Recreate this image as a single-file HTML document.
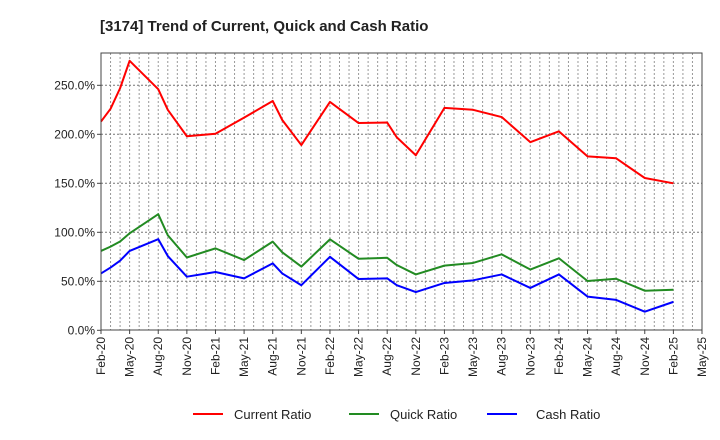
<!DOCTYPE html>
<html><head><meta charset="utf-8"><style>
body{margin:0;background:#fff;font-family:"Liberation Sans",sans-serif}
svg{display:block}
</style></head><body>
<svg id="c" width="720" height="440" xmlns="http://www.w3.org/2000/svg">
<text x="100" y="31" font-size="15" font-weight="bold" fill="#222">[3174]  Trend of Current, Quick and Cash Ratio</text>
<g id="grid"></g>
<g id="yax"></g>
<g id="xax"></g>
<g id="series"></g>
<rect x="101" y="53" width="601" height="277" fill="none" stroke="#444" stroke-width="1"/>
<g>
<g><line x1="193" y1="414" x2="223" y2="414" stroke="#f00" stroke-width="2"/><text x="234" y="419" font-size="13" fill="#222">Current Ratio</text></g>
<g><line x1="349" y1="414" x2="379" y2="414" stroke="#228b22" stroke-width="2"/><text x="390" y="419" font-size="13" fill="#222">Quick Ratio</text></g>
<g><line x1="487" y1="414" x2="517" y2="414" stroke="#00f" stroke-width="2"/><text x="536" y="419" font-size="13" fill="#222">Cash Ratio</text></g>
</g>
</svg>
<script>
const monthIdx=[0,1,2,3,6,7,9,12,15,18,19,21,24,27,30,31,33,36,39,42,45,48,51,54,57,60];
const currentRatio=[213,226,247,275,246,225,198,200.6,217,234,214.6,189,233,211.5,212,197,178.6,227,225,217.6,192,203,177.5,175.5,155.4,150];
const quickRatio=[81,85.4,90.6,99,118.5,97,74.3,83.6,71.7,90.5,79.6,65,92.8,73,74,66.6,57,66,68.7,77.5,62,73.5,50.3,52.6,40.4,41.4];
const cashRatio=[58,64,71,81,93,75.8,54.7,59.5,53,68.3,58,46,75,52.3,53,46,39,48.3,51,57,43.2,57,34.4,31,19,29];
const yTicks=[0,50,100,150,200,250];
const xLabels=["Feb-20","May-20","Aug-20","Nov-20","Feb-21","May-21","Aug-21","Nov-21","Feb-22","May-22","Aug-22","Nov-22","Feb-23","May-23","Aug-23","Nov-23","Feb-24","May-24","Aug-24","Nov-24","Feb-25","May-25"];
const NS="http://www.w3.org/2000/svg";
const X0=101,X1=702,Y0=330.3,PPU=0.98,NM=63;
const xs=m=>X0+(X1-X0)*m/NM, ys=v=>Y0-v*PPU;
function mk(t,a,p){const e=document.createElementNS(NS,t);for(const k in a)e.setAttribute(k,a[k]);p.appendChild(e);return e;}
const grid=document.getElementById('grid'),yax=document.getElementById('yax'),xax=document.getElementById('xax'),ser=document.getElementById('series');
for(let m=1;m<NM;m++){const l=mk('line',{x1:xs(m),x2:xs(m),y1:53,y2:330,stroke:'#999','stroke-width':1,'stroke-dasharray':'2,2'},grid);

}
yTicks.forEach(v=>{const y=ys(v);
if(v>0){const g=mk('line',{x1:X0,x2:X1,y1:y,y2:y,stroke:'#777','stroke-width':1,'stroke-dasharray':'2,2'},grid);

}
mk('line',{x1:X0-4,x2:X0,y1:y,y2:y,stroke:'#444'},yax);
const t=mk('text',{x:X0-6,y:y+4,'font-size':12,'text-anchor':'end',fill:'#222'},yax);t.textContent=v.toFixed(1)+'%';

});
xLabels.forEach((s,i)=>{const x=xs(i*3);
mk('line',{x1:x,x2:x,y1:330,y2:334,stroke:'#444'},xax);
const t=mk('text',{x:0,y:0,'font-size':12,'text-anchor':'end',fill:'#222',transform:`translate(${x+4},337) rotate(-90)`},xax);t.textContent=s;

});
[[currentRatio,'#f00','current-ratio-line'],[quickRatio,'#228b22','quick-ratio-line'],[cashRatio,'#00f','cash-ratio-line']].forEach(([d,c,n])=>{
const p=mk('polyline',{points:d.map((v,i)=>xs(monthIdx[i])+','+ys(v)).join(' '),fill:'none',stroke:c,'stroke-width':2,'stroke-linejoin':'round'},ser);

});
</script>
</body></html>
